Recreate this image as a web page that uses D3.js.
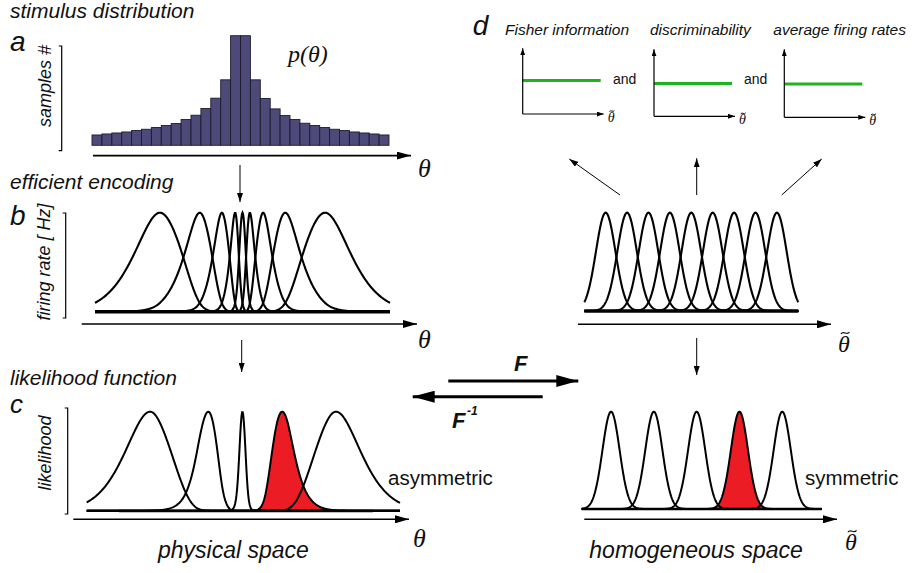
<!DOCTYPE html>
<html>
<head>
<meta charset="utf-8">
<script src="https://cdn.jsdelivr.net/npm/d3@7"></script>
<style>
  body { margin: 0; background: #fff; }
  svg { display: block; }
  text { font-family: "Liberation Sans", Arial, sans-serif; fill: #111; }
  .math { font-family: "Liberation Serif", "DejaVu Serif", serif; font-style: italic; }
</style>
</head>
<body>
<script>
// stimulus prior, histogram bar heights (samples)
const priorCounts = [10.3, 11.3, 12.3, 13.3, 14.7, 16, 17.7, 19.7, 21.7, 25.7, 30, 36.7, 47, 65.3, 109.3,
                     109.3, 65.3, 46.7, 36.3, 29.7, 25.7, 22, 19.7, 17.7, 16, 14.7, 13.3, 12.3, 11.3, 10.3];

// where the tuning curve peaks sit in physical space (0..100), with the two edges
const thetaNodes = [0, 22, 35.5, 43, 47.5, 50, 52.5, 57, 64.5, 78, 100];
// the same points in homogeneous space (curve index)
const indexNodes = [-1, 0, 1, 2, 3, 4, 5, 6, 7, 8, 9];
const tuningCenters = [0, 1, 2, 3, 4, 5, 6, 7, 8];
const tuningWidth = 0.455;

// likelihood functions
const likelihoodPhysical = [20.2, 38.8, 49.7, 62.4, 79.6];
const likelihoodHomog = [0.25, 2.25, 4.25, 6.25, 8.25];
const likelihoodWidth = 0.4;
const highlighted = 3;

// panel d, flat lines
const flatX = [0, 1];
const fisherInfo = [0.51, 0.51];
const discriminability = [0.49, 0.49];
const averageRates = [0.49, 0.49];

const red = "#ec1c24";
const green = "#1eb41e";

const svg = d3.select("body").append("svg")
  .attr("width", 913).attr("height", 573);

// arrow heads
const defs = svg.append("defs");
function marker(id, len, wid) {
  defs.append("marker")
    .attr("id", id)
    .attr("markerUnits", "userSpaceOnUse")
    .attr("markerWidth", len).attr("markerHeight", wid)
    .attr("refX", len).attr("refY", wid / 2)
    .attr("orient", "auto")
    .append("path")
    .attr("d", `M0,0L${len},${wid / 2}L0,${wid}Z`)
    .attr("fill", "#000");
}
marker("axisHead", 14, 8);
marker("smallHead", 9, 6);
marker("bigHead", 22, 12);
marker("miniHead", 7, 5);

function arrow(x1, y1, x2, y2, w, head) {
  svg.append("line")
    .attr("x1", x1).attr("y1", y1).attr("x2", x2).attr("y2", y2)
    .attr("stroke", "#000").attr("stroke-width", w)
    .attr("marker-end", `url(#${head})`);
}
function bracket(x, y0, y1) {
  svg.append("path")
    .attr("d", `M${x - 3},${y0}H${x}V${y1}H${x - 3}`)
    .attr("fill", "none").attr("stroke", "#000").attr("stroke-width", 1.2);
}
function hline(x0, x1, y, w) {
  svg.append("line").attr("x1", x0).attr("x2", x1).attr("y1", y).attr("y2", y)
    .attr("stroke", "#000").attr("stroke-width", w);
}
function label(x, y, str, size, opts = {}) {
  const t = svg.append("text").attr("x", x).attr("y", y).text(str)
    .attr("font-size", size);
  if (opts.italic) t.attr("font-style", "italic");
  if (opts.bold) t.attr("font-weight", "bold");
  if (opts.cls) t.attr("class", opts.cls);
  if (opts.anchor) t.attr("text-anchor", opts.anchor);
  return t;
}
function vlabel(x, y, str, size) {
  svg.append("text")
    .attr("transform", `translate(${x},${y}) rotate(-90)`)
    .attr("text-anchor", "middle").attr("font-style", "italic")
    .attr("font-size", size).text(str);
}
function theta(x, y, size) {
  label(x, y, "θ", size, {cls: "math"});
}
function thetaTilde(x, y, size) {
  label(x, y, "θ", size, {cls: "math"});
  const cx = x + size * 0.3, cy = y - size * 0.78, w = size * 0.36, h = size * 0.08;
  svg.append("path")
    .attr("d", `M${cx - w / 2},${cy + h / 2}C${cx - w / 6},${cy - h * 1.6} ${cx + w / 6},${cy + h * 1.6} ${cx + w / 2},${cy - h / 2}`)
    .attr("fill", "none").attr("stroke", "#111").attr("stroke-width", Math.max(1, size * 0.05));
}

// monotone cubic warp, physical -> homogeneous
function monotone(xs, ys) {
  const n = xs.length, h = [], s = [], m = [];
  for (let i = 0; i < n - 1; i++) {
    h[i] = xs[i + 1] - xs[i];
    s[i] = (ys[i + 1] - ys[i]) / h[i];
  }
  for (let i = 1; i < n - 1; i++) {
    const p = (s[i - 1] * h[i] + s[i] * h[i - 1]) / (h[i - 1] + h[i]);
    m[i] = (Math.sign(s[i - 1]) + Math.sign(s[i])) *
      Math.min(Math.abs(s[i - 1]), Math.abs(s[i]), 0.5 * Math.abs(p));
  }
  m[0] = (3 * s[0] - m[1]) / 2;
  m[n - 1] = (3 * s[n - 2] - m[n - 2]) / 2;
  return x => {
    if (x <= xs[0]) return ys[0] + m[0] * (x - xs[0]);
    if (x >= xs[n - 1]) return ys[n - 1] + m[n - 1] * (x - xs[n - 1]);
    const i = Math.min(d3.bisectRight(xs, x) - 1, n - 2);
    const t = (x - xs[i]) / h[i], t2 = t * t, t3 = t2 * t;
    return (2 * t3 - 3 * t2 + 1) * ys[i] + (t3 - 2 * t2 + t) * h[i] * m[i] +
      (-2 * t3 + 3 * t2) * ys[i + 1] + (t3 - t2) * h[i] * m[i + 1];
  };
}
const F = monotone(thetaNodes, indexNodes);
const gauss = (u, c, s) => Math.exp(-((u - c) * (u - c)) / (2 * s * s));

const thetaGrid = d3.range(0, 100.001, 0.2);

// ---------- panel a ----------
label(10, 18, "stimulus distribution", 21, {italic: true});
label(10, 51, "a", 28, {italic: true});
vlabel(51, 86, "samples #", 18);
bracket(61.7, 46, 150.7);

const xA = d3.scaleBand().domain(d3.range(priorCounts.length)).range([92, 389]);
const yA = d3.scaleLinear().domain([0, 109.3]).range([145.3, 35.7]);
svg.append("g").selectAll("rect")
  .data(priorCounts)
  .join("rect")
  .attr("x", (d, i) => xA(i))
  .attr("y", d => yA(d))
  .attr("width", xA.bandwidth())
  .attr("height", d => yA(0) - yA(d))
  .attr("fill", "#4d4979")
  .attr("stroke", "#1d1b2c")
  .attr("stroke-width", 0.9);
label(288, 62, "p(θ)", 24, {cls: "math"});
arrow(93, 155.6, 411, 155.6, 1.6, "axisHead");
theta(418, 177, 26);

arrow(240, 165, 240, 202, 1, "smallHead");

// ---------- panel b ----------
label(10, 188.5, "efficient encoding", 21, {italic: true});
label(10, 225, "b", 28, {italic: true});
vlabel(49.5, 262, "firing rate [ Hz]", 18);
bracket(65.7, 213, 318);

const xB = d3.scaleLinear().domain([0, 100]).range([95, 390]);
const yB = d3.scaleLinear().domain([0, 1]).range([311.7, 212.7]);
const lineB = c => d3.line()
  .x(t => xB(t))
  .y(t => yB(gauss(F(t), c, tuningWidth)))(thetaGrid);
svg.append("g").selectAll("path")
  .data(tuningCenters)
  .join("path")
  .attr("d", lineB)
  .attr("fill", "none").attr("stroke", "#000").attr("stroke-width", 2.1);
hline(95, 390, 311.7, 3.5);
arrow(81.7, 324, 417, 324, 1.6, "axisHead");
theta(418, 348, 26);

// right: homogeneous space
const xBR = d3.scaleLinear().domain([-1, 9]).range([584.3, 798.3]);
const yBR = d3.scaleLinear().domain([0, 1]).range([311, 212.7]);
const uGrid = d3.range(-1, 9.0001, 0.02);
svg.append("g").selectAll("path")
  .data(tuningCenters)
  .join("path")
  .attr("d", c => d3.line().x(u => xBR(u)).y(u => yBR(gauss(u, c, tuningWidth)))(uGrid))
  .attr("fill", "none").attr("stroke", "#000").attr("stroke-width", 2.1);
hline(584.3, 798.3, 311, 3.5);
arrow(578, 324.3, 831, 324.3, 1.6, "axisHead");
thetaTilde(838, 351.7, 24);

arrow(620, 195, 569.3, 159, 1, "smallHead");
arrow(696.7, 195, 696.7, 158.3, 1, "smallHead");
arrow(781.7, 195, 821.7, 159, 1, "smallHead");

arrow(241.7, 340, 241.7, 372, 1, "smallHead");
arrow(696.7, 338, 696.7, 375, 1, "smallHead");

// ---------- panel d ----------
label(472.7, 35, "d", 28, {italic: true});
label(505, 35, "Fisher information", 15.5, {italic: true});
label(650, 35, "discriminability", 15.5, {italic: true});
label(773.3, 35, "average firing rates", 15.5, {italic: true});
label(613, 84, "and", 14);
label(744, 84, "and", 14);

const minis = [
  {x0: 522.7, bottom: 114, top: 48.3, values: fisherInfo},
  {x0: 654, bottom: 116.3, top: 49.3, values: discriminability},
  {x0: 784.3, bottom: 117.3, top: 49.3, values: averageRates}
];
minis.forEach(p => {
  const xs = d3.scaleLinear().domain([0, 1]).range([p.x0, p.x0 + 78]);
  const ys = d3.scaleLinear().domain([0, 1]).range([p.bottom, p.top]);
  svg.append("path")
    .datum(flatX.map((x, i) => [x, p.values[i]]))
    .attr("d", d3.line().x(d => xs(d[0])).y(d => ys(d[1])))
    .attr("fill", "none").attr("stroke", green).attr("stroke-width", 3);
  arrow(p.x0, p.bottom, p.x0, p.top, 1.2, "miniHead");
  arrow(p.x0, p.bottom, p.x0 + 81, p.bottom, 1.2, "miniHead");
  thetaTilde(p.x0 + 85, p.bottom + 8, 14);
});

// ---------- F arrows ----------
arrow(448.3, 381, 578.3, 381, 3, "bigHead");
arrow(542.7, 396.7, 412.7, 396.7, 3, "bigHead");
label(514, 371, "F", 22, {italic: true, bold: true});
label(452, 428, "F", 22, {italic: true, bold: true});
label(467, 415, "-1", 12, {italic: true, bold: true});

// ---------- panel c ----------
label(10, 385, "likelihood function", 21, {italic: true});
label(10, 413, "c", 26, {italic: true});
vlabel(51, 453, "likelihood", 18);
bracket(67.7, 408, 514);

const xC = d3.scaleLinear().domain([0, 100]).range([86.7, 400]);
const yC = d3.scaleLinear().domain([0, 1]).range([510.7, 411.7]);
const likeIdx = likelihoodPhysical.map(F);
svg.append("path")
  .attr("d", d3.area()
    .x(t => xC(t)).y0(yC(0))
    .y1(t => yC(gauss(F(t), likeIdx[highlighted], likelihoodWidth)))(thetaGrid))
  .attr("fill", red);
hline(95, 388, 510.7, 1.3);
hline(119, 373, 511, 2.6);
svg.append("g").selectAll("path")
  .data(likeIdx)
  .join("path")
  .attr("d", c => d3.line().x(t => xC(t)).y(t => yC(gauss(F(t), c, likelihoodWidth)))(thetaGrid))
  .attr("fill", "none").attr("stroke", "#000").attr("stroke-width", 2);
arrow(73.3, 519.3, 409, 519.3, 1.6, "axisHead");
theta(413, 546.5, 26);
label(388, 485, "asymmetric", 20.5);
label(158, 558, "physical space", 23, {italic: true});

// right: homogeneous space
const xCR = d3.scaleLinear().domain([-1, 9]).range([584.3, 798.3]);
const yCR = d3.scaleLinear().domain([0, 1]).range([509, 411.7]);
const uGridC = d3.range(-1.12, 10.1, 0.02);
svg.append("path")
  .attr("d", d3.area()
    .x(u => xCR(u)).y0(yCR(0))
    .y1(u => yCR(gauss(u, likelihoodHomog[highlighted], likelihoodWidth)))(uGridC))
  .attr("fill", red);
svg.append("g").selectAll("path")
  .data(likelihoodHomog)
  .join("path")
  .attr("d", c => d3.line().x(u => xCR(u)).y(u => yCR(gauss(u, c, likelihoodWidth)))(uGridC))
  .attr("fill", "none").attr("stroke", "#000").attr("stroke-width", 2);
hline(581.7, 821.7, 509, 2.6);
arrow(584.3, 519.3, 837, 519.3, 1.6, "axisHead");
thetaTilde(845, 550, 24);
label(805, 485, "symmetric", 20.5);
label(589.3, 558, "homogeneous space", 23, {italic: true});
</script>
</body>
</html>
